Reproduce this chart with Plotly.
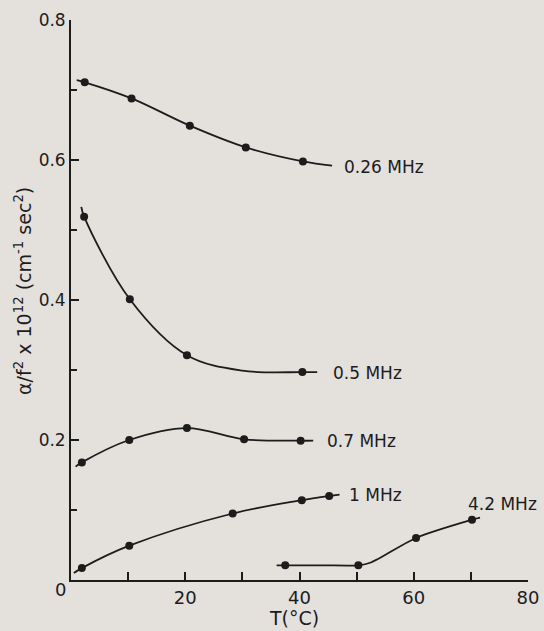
import plotly.graph_objects as go

# ---- data (T in °C, alpha/f^2 x 1e12) ----
series_names = ["0.26 MHz", "0.5 MHz", "0.7 MHz", "1 MHz", "4.2 MHz"]

pts_T_026 = [2.4, 10.6, 20.8, 30.6, 40.6]
pts_A_026 = [0.711, 0.688, 0.649, 0.618, 0.598]
curve_T_026 = [1.0, 2.4, 10.6, 20.8, 30.6, 40.6, 45.7]
curve_A_026 = [0.714, 0.711, 0.688, 0.649, 0.618, 0.598, 0.592]

pts_T_05 = [2.3, 10.3, 20.3, 40.5]
pts_A_05 = [0.519, 0.401, 0.321, 0.297]
curve_T_05 = [1.8, 2.3, 10.3, 20.3, 30.0, 40.5, 43.1]
curve_A_05 = [0.533, 0.519, 0.401, 0.321, 0.299, 0.297, 0.297]

pts_T_07 = [1.9, 10.2, 20.3, 30.3, 40.2]
pts_A_07 = [0.168, 0.200, 0.217, 0.201, 0.199]
curve_T_07 = [0.8, 1.9, 10.2, 20.3, 30.3, 40.2, 42.4]
curve_A_07 = [0.162, 0.168, 0.200, 0.217, 0.201, 0.199, 0.199]

pts_T_1 = [1.9, 10.2, 28.3, 40.4, 45.2]
pts_A_1 = [0.017, 0.049, 0.095, 0.114, 0.120]
curve_T_1 = [0.5, 1.9, 10.2, 28.3, 40.4, 45.2, 47.0]
curve_A_1 = [0.010, 0.017, 0.049, 0.095, 0.114, 0.120, 0.122]

pts_T_42 = [37.5, 50.3, 60.4, 70.2]
pts_A_42 = [0.021, 0.021, 0.060, 0.086]
curve_T_42 = [36.0, 37.5, 44.0, 50.3, 52.5, 60.4, 70.2, 71.6]
curve_A_42 = [0.021, 0.021, 0.021, 0.021, 0.025, 0.060, 0.086, 0.089]

x_tickvals = [20, 40, 60, 80]
x_minor = [10, 30, 50, 70]
y_tickvals = [0.2, 0.4, 0.6, 0.8]
y_ticktext = ["0.2", "0.4", "0.6", "0.8"]
y_minor = [0.1, 0.3, 0.5, 0.7]

BG = "#e4e0dc"
INK = "#1c1c1c"
FONT = "DejaVu Sans"

pts = [(pts_T_026, pts_A_026), (pts_T_05, pts_A_05), (pts_T_07, pts_A_07),
       (pts_T_1, pts_A_1), (pts_T_42, pts_A_42)]
curves = [(curve_T_026, curve_A_026), (curve_T_05, curve_A_05), (curve_T_07, curve_A_07),
          (curve_T_1, curve_A_1), (curve_T_42, curve_A_42)]
smooth = [1.0, 1.0, 1.0, 1.0, 0.8]

fig = go.Figure()
for name, (cx, cy), (px, py), sm in zip(series_names, curves, pts, smooth):
    fig.add_trace(go.Scatter(x=cx, y=cy, mode="lines", name=name,
                             line=dict(color=INK, width=1.8, shape="spline", smoothing=sm),
                             showlegend=False, hoverinfo="skip", cliponaxis=False))
    fig.add_trace(go.Scatter(x=px, y=py, mode="markers", name=name,
                             marker=dict(color=INK, size=8),
                             showlegend=False, cliponaxis=False))

# series labels
label_pos = [(47.4, 0.590), (45.6, 0.296), (44.5, 0.198), (48.3, 0.121), (69.2, 0.108)]
for name, (lx, ly) in zip(series_names, label_pos):
    fig.add_annotation(x=lx, y=ly, text=name, showarrow=False, xanchor="left", yanchor="middle",
                       font=dict(family=FONT, size=17, color=INK))

# corner zero label
fig.add_annotation(x=0, y=0, text="0", showarrow=False, xanchor="right", yanchor="top",
                   xshift=-3, yshift=3, font=dict(family=FONT, size=18, color=INK))

# axis titles
fig.add_annotation(x=39, y=0, xref="x", yref="paper", yshift=-38, text="T(°C)",
                   showarrow=False, xanchor="center", yanchor="middle",
                   font=dict(family=FONT, size=19, color=INK))
fig.add_annotation(x=0, y=0.413, xref="paper", yref="y", xshift=-48,
                   text="α/f<sup>2</sup> x 10<sup>12</sup> (cm<sup>-1</sup> sec<sup>2</sup>)",
                   textangle=-90, showarrow=False, xanchor="center", yanchor="middle",
                   font=dict(family=FONT, size=19, color=INK))

fig.update_xaxes(range=[0, 80], tickmode="array", tickvals=x_tickvals, automargin=False,
                 ticks="inside", ticklen=8, tickwidth=1.5, tickcolor=INK,
                 minor=dict(tickmode="array", tickvals=x_minor, ticks="inside",
                            ticklen=8, tickwidth=1.5, tickcolor=INK),
                 showline=True, linecolor=INK, linewidth=1.8, showgrid=False, zeroline=False,
                 tickfont=dict(family=FONT, size=18, color=INK))
fig.update_yaxes(range=[0, 0.8], tickmode="array", tickvals=y_tickvals, ticktext=y_ticktext,
                 automargin=False,
                 ticks="inside", ticklen=8, tickwidth=1.5, tickcolor=INK,
                 minor=dict(tickmode="array", tickvals=y_minor, ticks="inside",
                            ticklen=6, tickwidth=1.5, tickcolor=INK),
                 showline=True, linecolor=INK, linewidth=1.8, showgrid=False, zeroline=False,
                 tickfont=dict(family=FONT, size=17, color=INK))

fig.update_layout(width=544, height=631, paper_bgcolor=BG, plot_bgcolor=BG,
                  margin=dict(l=71, r=16, t=20, b=51), showlegend=False)

fig.write_html("out.html", config={"displayModeBar": False},
               post_script="document.body.style.margin='0';document.body.style.background='" + BG + "';")
